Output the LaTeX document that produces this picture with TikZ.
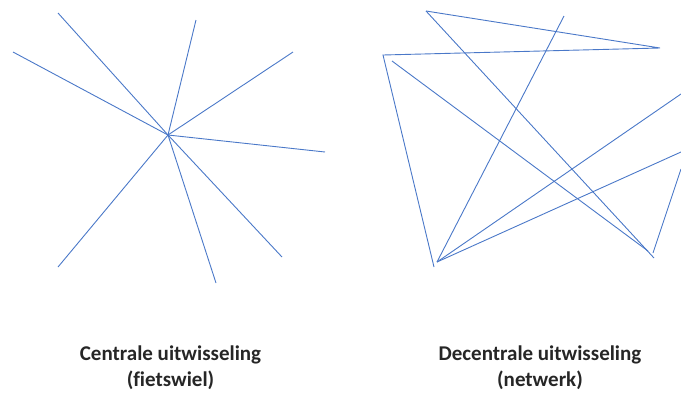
\documentclass[tikz,border=0pt]{standalone}
\usepackage{fontspec}
\setmainfont[Ligatures=NoCommon]{Carlito}
\definecolor{lineblue}{HTML}{4A78C8}
\begin{document}
\begin{tikzpicture}[x=1pt,y=-1pt,
  edge/.style={draw=lineblue,line width=0.9pt},
  caption/.style={font=\fontsize{21}{26}\selectfont\bfseries,align=center,text=black!85,inner sep=0pt,anchor=north}]
\useasboundingbox (0,0) rectangle (681,392);
% wheel
\coordinate (hub) at (168,135);
\coordinate (s1) at (58,13);
\coordinate (s2) at (13,52);
\coordinate (s3) at (196,20);
\coordinate (s4) at (293,52);
\coordinate (s5) at (325,152);
\coordinate (s6) at (282,257);
\coordinate (s7) at (216,283);
\coordinate (s8) at (58,267);
\foreach \s in {s1,s2,s3,s4,s5,s6,s7,s8} \draw[edge] (hub) -- (\s);
% network
\coordinate (A) at (426,11);
\coordinate (B) at (660,48);
\coordinate (C) at (383,55);
\coordinate (D) at (434,267);
\coordinate (Dj) at (437,262);
\coordinate (E) at (564,16);
\coordinate (F) at (392,61);
\coordinate (G) at (654,258);
\coordinate (G2) at (648,251);
\coordinate (H) at (681,94);
\coordinate (I) at (681,152);
\coordinate (J) at (681,169);
\coordinate (K) at (653,253);
\draw[edge] (A) -- (B) -- (C) -- (D);
\draw[edge] (A) -- (G);
\draw[edge] (F) -- (G2);
\draw[edge] (E) -- (Dj);
\draw[edge] (Dj) -- (H);
\draw[edge] (Dj) -- (I);
\draw[edge] (K) -- (J);
% captions
\node[caption] (cap1) at (170.5,346) {Centrale uitwisseling\\(fietswiel)};
\node[caption] (cap2) at (540,346) {Decentrale uitwisseling\\(netwerk)};
\end{tikzpicture}
\end{document}
